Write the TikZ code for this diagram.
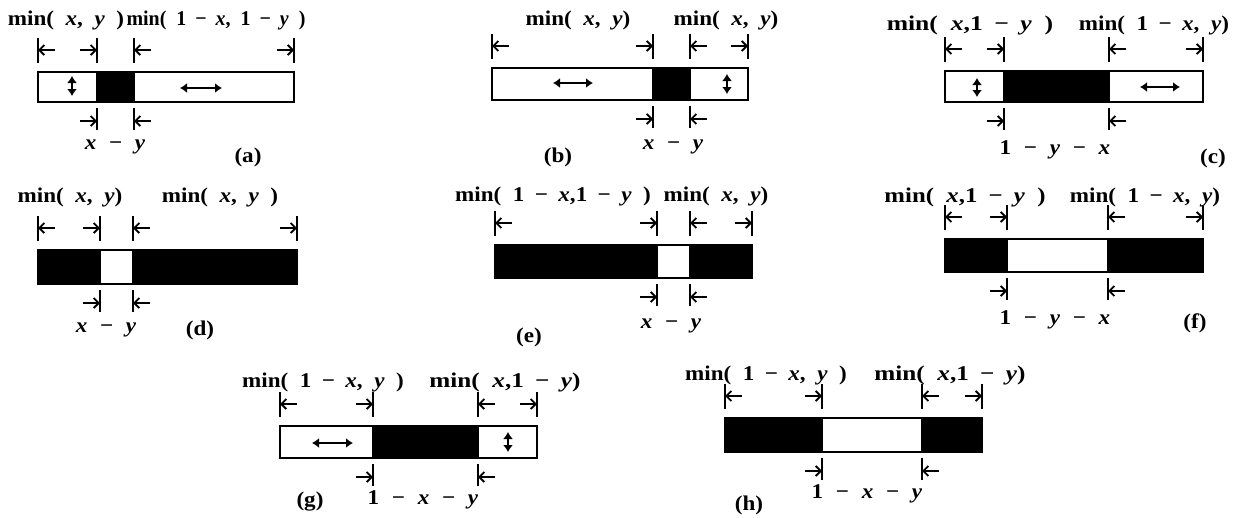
\documentclass[tikz,border=0pt]{standalone}
\usepackage{fontspec}
\setmainfont{Liberation Serif}
\usepackage{graphicx}
\usetikzlibrary{arrows.meta,calc}

\tikzset{
  barline/.style={line width=2.8pt,line join=miter},
  tick/.style={line width=2pt},
  dimarr/.style={line width=1.8pt,-{Straight Barb[length=5pt,width=10pt]}},
  dblarr/.style={line width=2.8pt,{Latex[length=7pt,width=10pt]}-{Latex[length=7pt,width=10pt]}},
  lbl/.style={font=\fontsize{21}{22}\selectfont\bfseries,inner sep=0pt}
}
\newcommand{\vx}{\textit{x}}
\newcommand{\vy}{\textit{y}}
\newcommand{\gp}{\hspace{0.5em}}
\newcommand{\mi}{\hspace{0.45em}−\hspace{0.45em}}
\newcommand{\mb}{\hspace{0.55em}−\hspace{0.55em}}
\newcommand{\lab}[2][1.1]{\scalebox{#1}[1]{#2}}

% #1 name, #2--#5 edges, #6 bar top, #7 bar height, #8 outer fill, #9 middle fill
\newcommand{\strip}[9]{%
  \coordinate (#1-a) at (#2,#6);
  \coordinate (#1-b) at (#3,#6);
  \coordinate (#1-c) at (#4,#6);
  \coordinate (#1-d) at (#5,#6+#7);
  \fill[#8] (#1-a) rectangle (#1-d);
  \fill[#9] (#1-b) rectangle (#4,#6+#7);
  \draw[barline] (#1-a) rectangle (#1-d);
  \draw[barline] (#1-b) -- ++(0,#7) (#1-c) -- ++(0,#7);
  % ticks above
  \foreach \xx in {#2,#3,#4,#5}
    \draw[tick] (\xx,#6-34) -- (\xx,#6-9);
  \coordinate (#1-u1) at (#2,#6-22);
  \coordinate (#1-u2) at (#3,#6-22);
  \coordinate (#1-u3) at (#4,#6-22);
  \coordinate (#1-u4) at (#5,#6-22);
  \draw[dimarr] ($(#1-u1)+(17,0)$) -- (#1-u1);
  \draw[dimarr] ($(#1-u2)+(-17,0)$) -- (#1-u2);
  \draw[dimarr] ($(#1-u3)+(17,0)$) -- (#1-u3);
  \draw[dimarr] ($(#1-u4)+(-17,0)$) -- (#1-u4);
  % ticks below
  \foreach \xx in {#3,#4}
    \draw[tick] (\xx,#6+#7+6) -- (\xx,#6+#7+28);
  \coordinate (#1-w1) at (#3,#6+#7+19);
  \coordinate (#1-w2) at (#4,#6+#7+19);
  \draw[dimarr] ($(#1-w1)+(-17,0)$) -- (#1-w1);
  \draw[dimarr] ($(#1-w2)+(17,0)$) -- (#1-w2);
}

\begin{document}
\begin{tikzpicture}[x=1pt,y=-1pt]
\useasboundingbox (0,0) rectangle (1242,517);

% (a)
\strip{a}{38}{97}{134}{294}{72}{30}{white}{black}
\node[lbl] (a-l1) at (66,20) {\lab{min(\gp\vx,\gp\vy\gp)}};
\node[lbl] (a-l2) at (216,20) {\lab[0.95]{min(\gp1\mi\vx,\gp1\mi\vy\gp)}};
\node[lbl] (a-dx) at (115,147) {\lab{\vx\mb\vy}};
\node[lbl] (a-n) at (248,157) {\lab{(a)}};
\draw[dblarr] (72,76) -- (72,96);
\draw[dblarr] (180,88) -- (222,88);

% (b)
\strip{b}{492}{653}{690}{748}{68}{32}{white}{black}
\node[lbl] (b-l1) at (578,20) {\lab{min(\gp\vx,\gp\vy)}};
\node[lbl] (b-l2) at (726,20) {\lab{min(\gp\vx,\gp\vy)}};
\node[lbl] (b-dx) at (673,147) {\lab{\vx\mb\vy}};
\node[lbl] (b-n) at (558,157) {\lab{(b)}};
\draw[dblarr] (553,83) -- (593,83);
\draw[dblarr] (727,74) -- (727,94);

% (c)
\strip{c}{945}{1004}{1109}{1203}{71}{31}{white}{black}
\node[lbl] (c-l1) at (970,25) {\lab[1.22]{min(\gp\vx,1\mi\vy\gp)}};
\node[lbl] (c-l2) at (1154,25) {\lab{min(\gp1\mi\vx,\gp\vy)}};
\node[lbl] (c-dx) at (1055,150) {\lab{1\mb\vy\mb\vx}};
\node[lbl] (c-n) at (1213,158) {\lab{(c)}};
\draw[dblarr] (977,78) -- (977,97);
\draw[dblarr] (1140,87) -- (1180,87);

% (d)
\strip{d}{38}{100}{133}{297}{250}{34}{black}{white}
\node[lbl] (d-l1) at (70,197) {\lab{min(\gp\vx,\gp\vy)}};
\node[lbl] (d-l2) at (220,197) {\lab{min(\gp\vx,\gp\vy\gp)}};
\node[lbl] (d-dx) at (106,330) {\lab{\vx\mb\vy}};
\node[lbl] (d-n) at (200,330) {\lab{(d)}};

% (e)
\strip{e}{495}{657}{690}{752}{245}{33}{black}{white}
\node[lbl] (e-l1) at (553,196) {\lab{min(\gp1\mi\vx,1\mi\vy\gp)}};
\node[lbl] (e-l2) at (716,196) {\lab{min(\gp\vx,\gp\vy)}};
\node[lbl] (e-dx) at (671,326) {\lab{\vx\mb\vy}};
\node[lbl] (e-n) at (529,337) {\lab{(e)}};

% (f)
\strip{f}{945}{1007}{1108}{1203}{239}{33}{black}{white}
\node[lbl] (f-l1) at (965,197) {\lab[1.18]{min(\gp\vx,1\mi\vy\gp)}};
\node[lbl] (f-l2) at (1145,197) {\lab{min(\gp1\mi\vx,\gp\vy)}};
\node[lbl] (f-dx) at (1055,320) {\lab{1\mb\vy\mb\vx}};
\node[lbl] (f-n) at (1195,323) {\lab{(f)}};

% (g)
\strip{g}{280}{373}{478}{537}{426}{32}{white}{black}
\node[lbl] (g-l1) at (323,382) {\lab{min(\gp1\mi\vx,\gp\vy\gp)}};
\node[lbl] (g-l2) at (505,382) {\lab[1.2]{min(\gp\vx,1\mi\vy)}};
\node[lbl] (g-dx) at (423,500) {\lab{1\mb\vx\mb\vy}};
\node[lbl] (g-n) at (310,502) {\lab{(g)}};
\draw[dblarr] (312,443) -- (353,443);
\draw[dblarr] (508,432) -- (508,452);

% (h)
\strip{h}{725}{822}{922}{982}{418}{34}{black}{white}
\node[lbl] (h-l1) at (766,375) {\lab{min(\gp1\mi\vx,\gp\vy\gp)}};
\node[lbl] (h-l2) at (950,375) {\lab[1.2]{min(\gp\vx,1\mi\vy)}};
\node[lbl] (h-dx) at (867,494) {\lab{1\mb\vx\mb\vy}};
\node[lbl] (h-n) at (749,505) {\lab{(h)}};
\end{tikzpicture}
\end{document}
